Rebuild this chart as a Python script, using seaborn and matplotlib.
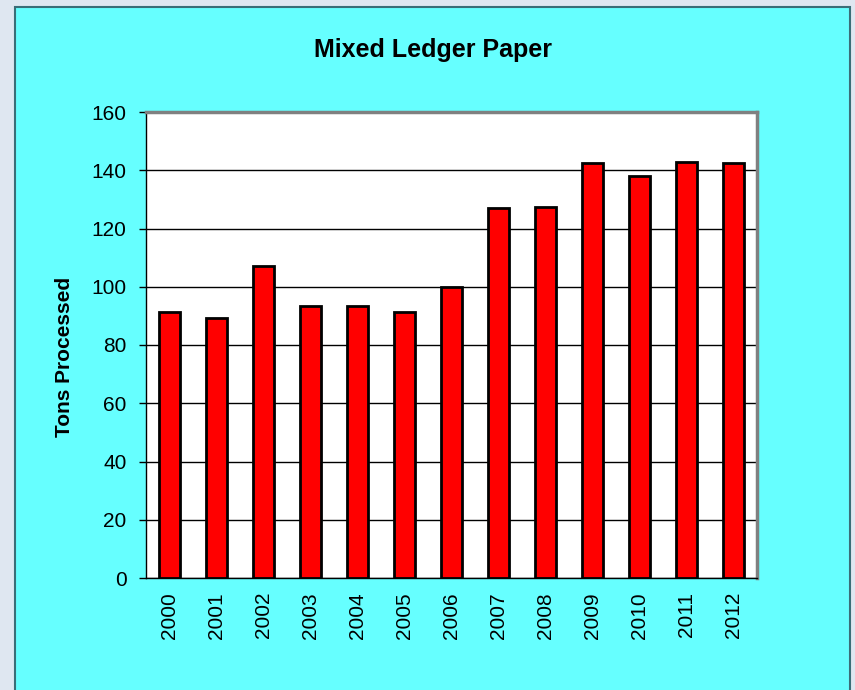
import numpy as np
import pandas as pd
import matplotlib
matplotlib.use("Agg")
import matplotlib.pyplot as plt
from matplotlib.patches import Rectangle
import seaborn as sns

years = ["2000", "2001", "2002", "2003", "2004", "2005", "2006",
         "2007", "2008", "2009", "2010", "2011", "2012"]
tons = [91.3, 89.3, 107, 93.4, 93.4, 91.3, 100, 127, 127.4, 142.5, 138, 143, 142.5]

sns.set_style("white")
plt.rcParams["font.family"] = ["Liberation Sans", "DejaVu Sans"]
plt.rcParams["text.color"] = "black"
plt.rcParams["axes.labelcolor"] = "black"
plt.rcParams["xtick.color"] = "black"
plt.rcParams["ytick.color"] = "black"

fig = plt.figure(figsize=(8.55, 6.9), dpi=100)
fig.patch.set_facecolor("#dfe7f1")
# cyan chart panel behind the axes
fig.patches.append(Rectangle((15 / 855, -0.01), 835 / 855, 1 - 7 / 690 + 0.01,
                             transform=fig.transFigure, facecolor="#66ffff",
                             edgecolor="#3a6e78", linewidth=1.5, zorder=-5))

ax = fig.add_axes([146 / 855, 1 - 578 / 690, 611 / 855, 466 / 690])
ax.set_zorder(2)
df = pd.DataFrame({"year": years, "tons": tons})
sns.barplot(data=df, x="year", y="tons", color="#ff0000", saturation=1,
            edgecolor="black", linewidth=2, width=0.45, ax=ax, zorder=3)

ax.set_facecolor("white")
ax.set_ylim(0, 160)
ax.set_xlim(-0.5, len(years) - 0.5)
ax.set_yticks(np.arange(0, 161, 20))
ax.yaxis.grid(True, color="black", linewidth=1, zorder=1)
ax.set_axisbelow(True)

ax.set_xticks(np.arange(-0.5, len(years), 1), minor=True)
ax.tick_params(axis="x", which="major", length=0, pad=10, labelsize=15, rotation=90)
ax.tick_params(axis="x", which="minor", length=8, direction="inout", width=1, color="black")
ax.tick_params(axis="y", length=5, direction="out", width=1, color="black",
               labelsize=15, left=True, pad=9)

for s in ["top", "right"]:
    ax.spines[s].set_color("#808080")
    ax.spines[s].set_linewidth(2.5)
for s in ["left", "bottom"]:
    ax.spines[s].set_color("black")
    ax.spines[s].set_linewidth(1)

ax.set_xlabel("")
ax.set_ylabel("")
fig.text(65 / 855, 1 - 357 / 690, "Tons Processed", rotation=90, ha="center", va="center",
         fontsize=15, fontweight="bold")
fig.text(433 / 855, 1 - 50 / 690, "Mixed Ledger Paper", ha="center", va="center",
         fontsize=18, fontweight="bold")

fig.savefig("out.png", dpi=100, facecolor=fig.get_facecolor())
